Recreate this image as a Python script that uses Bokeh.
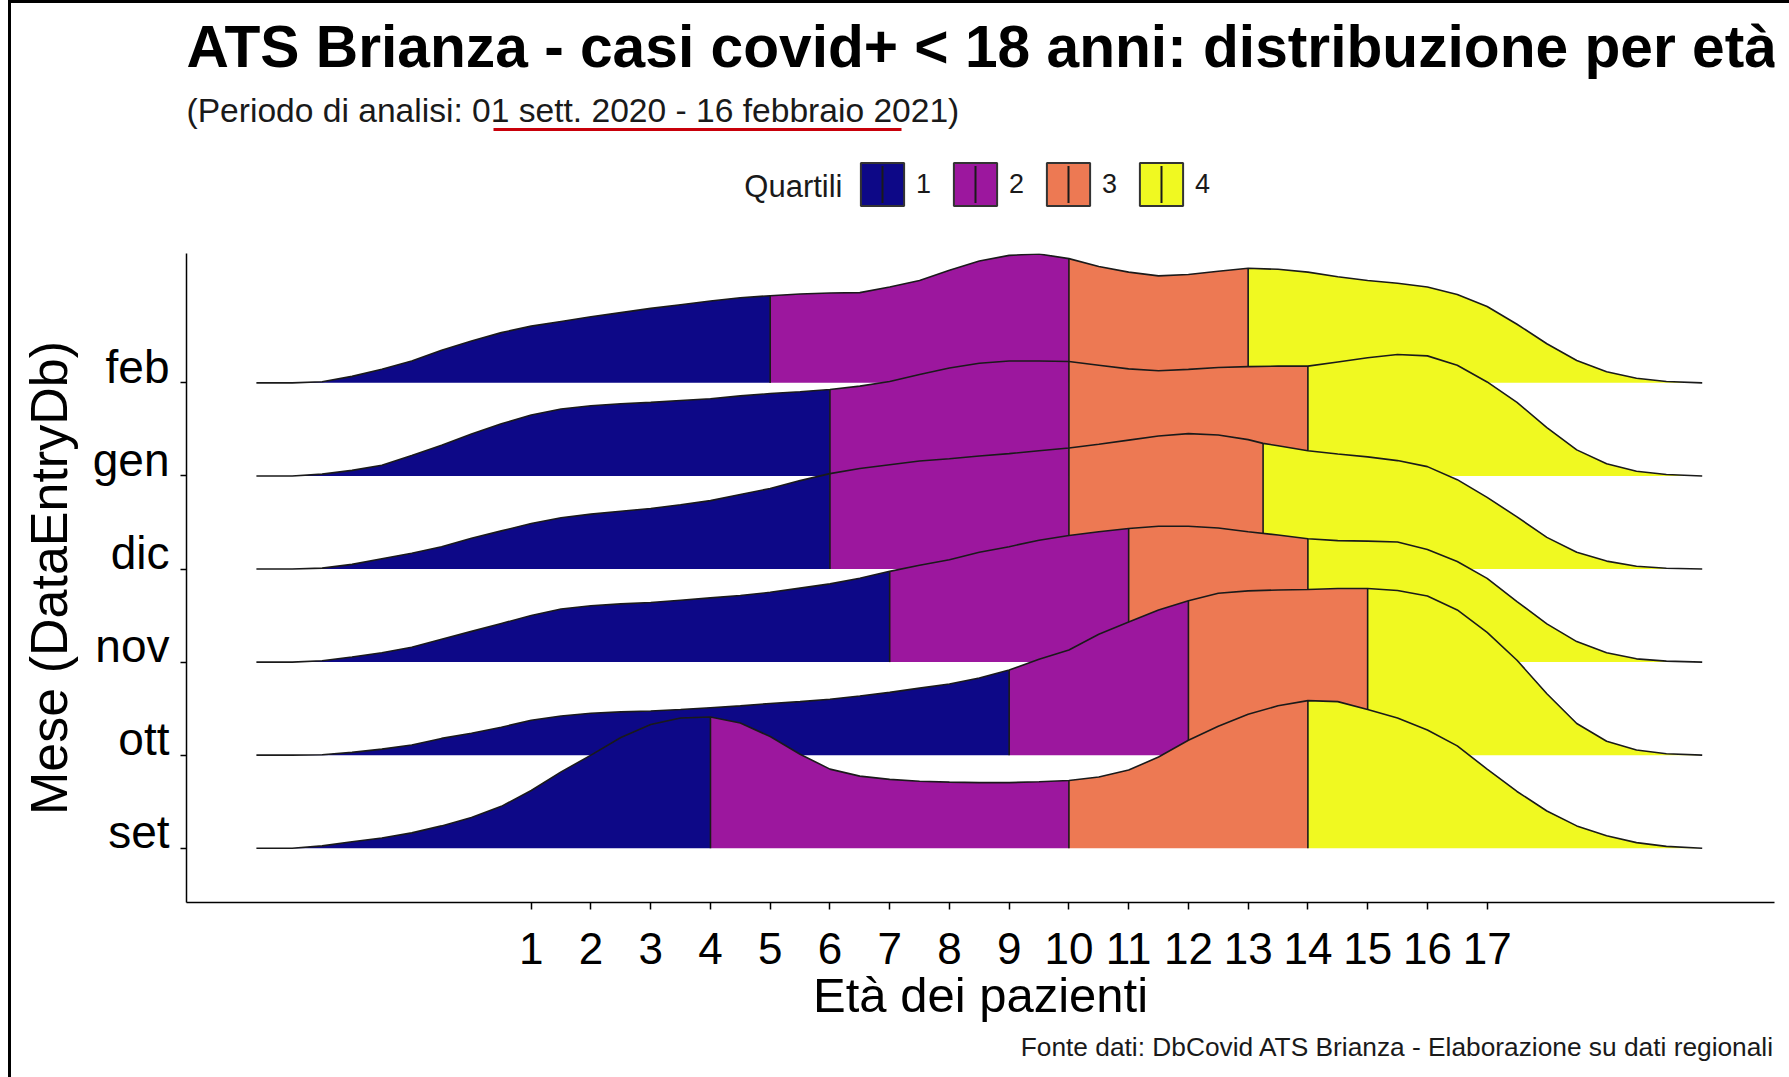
import numpy as np
from bokeh.plotting import figure
from bokeh.layouts import column
from bokeh.models import (ColumnDataSource, Range1d, FixedTicker, Legend, LegendItem,
                          Label, BoxAnnotation, Quad, Title)
from bokeh.embed import file_html
from bokeh.resources import INLINE

# ---------------- data ----------------
MONTHS = ["set", "ott", "nov", "dic", "gen", "feb"]          # bottom -> top
QUARTILE_LABELS = ["1", "2", "3", "4"]
QUARTILE_COLORS = ["#0D0887", "#9C179E", "#ED7953", "#F0F921"]
X_TICKS = list(range(1, 18))

AGES = [-3.6, -3.0, -2.5, -2.0, -1.5, -1.0, -0.5, 0.0, 0.5, 1.0, 1.5, 2.0, 2.5, 3.0,
        3.5, 4.0, 4.5, 5.0, 5.5, 6.0, 6.5, 7.0, 7.5, 8.0, 8.5, 9.0, 9.5, 10.0, 10.5,
        11.0, 11.5, 12.0, 12.5, 13.0, 13.5, 14.0, 14.5, 15.0, 15.5, 16.0, 16.5, 17.0,
        17.5, 18.0, 18.5, 19.0, 19.5, 20.0, 20.6]

DENS_FEB = [0, 0, 0.012, 0.07, 0.146, 0.235, 0.35, 0.45, 0.54, 0.61,
            0.66, 0.71, 0.755, 0.80, 0.84, 0.88, 0.915, 0.936, 0.955, 0.965,
            0.97, 1.03, 1.10, 1.21, 1.31, 1.37, 1.385, 1.335, 1.25, 1.19,
            1.15, 1.165, 1.20, 1.232, 1.22, 1.19, 1.14, 1.10, 1.07, 1.03,
            0.95, 0.82, 0.63, 0.42, 0.24, 0.12, 0.05, 0.015, 0]
DENS_GEN = [0, 0, 0.02, 0.06, 0.115, 0.22, 0.33, 0.45, 0.56, 0.655,
            0.72, 0.755, 0.775, 0.79, 0.81, 0.83, 0.86, 0.885, 0.905, 0.929,
            0.965, 1.015, 1.09, 1.16, 1.21, 1.235, 1.235, 1.23, 1.19, 1.15,
            1.13, 1.145, 1.165, 1.175, 1.18, 1.18, 1.225, 1.27, 1.305, 1.29,
            1.19, 1.01, 0.79, 0.52, 0.28, 0.13, 0.05, 0.015, 0]
DENS_DIC = [0, 0, 0.01, 0.05, 0.11, 0.17, 0.24, 0.33, 0.41, 0.49,
            0.55, 0.59, 0.62, 0.65, 0.69, 0.735, 0.80, 0.865, 0.95, 1.025,
            1.08, 1.12, 1.16, 1.185, 1.215, 1.24, 1.27, 1.30, 1.34, 1.385,
            1.43, 1.455, 1.44, 1.39, 1.325, 1.27, 1.235, 1.205, 1.165, 1.10,
            0.96, 0.77, 0.56, 0.34, 0.18, 0.085, 0.03, 0.008, 0]
DENS_NOV = [0, 0, 0.015, 0.055, 0.10, 0.16, 0.245, 0.33, 0.415, 0.50,
            0.57, 0.605, 0.625, 0.64, 0.665, 0.69, 0.715, 0.75, 0.795, 0.84,
            0.90, 0.975, 1.04, 1.10, 1.18, 1.24, 1.31, 1.36, 1.40, 1.435,
            1.46, 1.46, 1.44, 1.40, 1.365, 1.325, 1.305, 1.30, 1.29, 1.21,
            1.08, 0.90, 0.65, 0.41, 0.22, 0.10, 0.035, 0.01, 0]
DENS_OTT = [0, 0, 0.005, 0.03, 0.065, 0.11, 0.18, 0.235, 0.30, 0.375,
            0.42, 0.45, 0.465, 0.475, 0.49, 0.51, 0.53, 0.555, 0.575, 0.60,
            0.635, 0.675, 0.72, 0.765, 0.83, 0.915, 1.03, 1.13, 1.30, 1.43,
            1.56, 1.66, 1.74, 1.765, 1.775, 1.78, 1.79, 1.79, 1.77, 1.71,
            1.56, 1.32, 1.02, 0.66, 0.34, 0.15, 0.055, 0.015, 0]
DENS_SET = [0, 0, 0.025, 0.07, 0.11, 0.165, 0.24, 0.33, 0.45, 0.62,
            0.82, 1.00, 1.19, 1.33, 1.40, 1.41, 1.345, 1.20, 1.01, 0.85,
            0.775, 0.74, 0.72, 0.71, 0.705, 0.705, 0.715, 0.727, 0.765, 0.84,
            0.98, 1.16, 1.31, 1.44, 1.53, 1.586, 1.575, 1.49, 1.40, 1.27,
            1.10, 0.85, 0.61, 0.40, 0.24, 0.135, 0.06, 0.02, 0]

# quartile cut ages and the ridge height at each cut
CUTS_FEB, TOPS_FEB = [5, 10, 13], [0.936, 1.335, 1.232]
CUTS_GEN, TOPS_GEN = [6, 10, 14], [0.929, 1.23, 1.18]
CUTS_DIC, TOPS_DIC = [6, 10, 13.25], [1.025, 1.30, 1.35]
CUTS_NOV, TOPS_NOV = [7, 11, 14], [0.975, 1.435, 1.325]
CUTS_OTT, TOPS_OTT = [9, 12, 15], [0.915, 1.66, 1.79]
CUTS_SET, TOPS_SET = [4, 10, 14], [1.41, 0.727, 1.586]

DENS = {"feb": DENS_FEB, "gen": DENS_GEN, "dic": DENS_DIC,
        "nov": DENS_NOV, "ott": DENS_OTT, "set": DENS_SET}
CUTS = {"feb": CUTS_FEB, "gen": CUTS_GEN, "dic": CUTS_DIC,
        "nov": CUTS_NOV, "ott": CUTS_OTT, "set": CUTS_SET}
TOPS = {"feb": TOPS_FEB, "gen": TOPS_GEN, "dic": TOPS_DIC,
        "nov": TOPS_NOV, "ott": TOPS_OTT, "set": TOPS_SET}

TITLE = "ATS Brianza - casi covid+ < 18 anni: distribuzione per età"
SUBTITLE = "(Periodo di analisi: 01 sett. 2020 - 16 febbraio 2021)"
CAPTION = "Fonte dati: DbCovid ATS Brianza - Elaborazione su dati regionali"
LEGEND_TITLE = "Quartili"
FONT = "Liberation Sans"
INK = "#1a1a1a"

W = 1778
HEAD_H = 240
MAIN_H = 834
ML, MR, MT, MB = 175, 15, 10, 175
FRAME_W = W - ML - MR

# ---------------- header: title, subtitle, highlight, legend ----------------
# header frame is aligned with the main frame; 1 unit = 1 px, y measured downwards
head = figure(width=W, height=HEAD_H, x_range=Range1d(0, FRAME_W), y_range=Range1d(HEAD_H, 0),
              output_backend="svg", toolbar_location=None, title=None,
              x_axis_location=None, y_axis_location=None,
              min_border_left=ML, min_border_right=MR, min_border_top=0, min_border_bottom=0,
              outline_line_color=None, background_fill_color="white",
              border_fill_color="white")
head.grid.visible = False

head.add_layout(Label(x=0, y=63 - 0.3465 * 58.7, text=TITLE, text_font=FONT,
                      text_font_size="58.7px", text_font_style="bold", text_color="black",
                      text_align="left", text_baseline="middle"))
head.add_layout(Label(x=0, y=119 - 0.3465 * 33.6, text=SUBTITLE, text_font=FONT,
                      text_font_size="33.6px", text_color=INK,
                      text_align="left", text_baseline="middle"))
head.add_layout(BoxAnnotation(left=307, right=715, top=124.5, bottom=127.5,
                              fill_color="#C8000A", fill_alpha=1, line_alpha=0))

# legend geometry (bokeh draws area keys inset by 10 % of the glyph box)
KEY_W, KEY_H, LAB_STANDOFF, LAB_W, SPACING = 54, 54, 7, 20, 12
PITCH = KEY_W + LAB_STANDOFF + LAB_W + SPACING          # 93 px
KEY_X, KEY_TOP = 669, 154
INSET = 0.1 * KEY_W

# key fills and median marks painted first; the legend then draws the key frames
for i, col in enumerate(QUARTILE_COLORS):
    x0 = KEY_X + i * PITCH
    head.add_layout(BoxAnnotation(left=x0 + INSET, right=x0 + KEY_W - INSET,
                                  top=KEY_TOP + INSET, bottom=KEY_TOP + KEY_H - INSET,
                                  fill_color=col, fill_alpha=1, line_alpha=0))
    head.add_layout(BoxAnnotation(left=x0 + KEY_W / 2 - 1, right=x0 + KEY_W / 2 + 1,
                                  top=KEY_TOP + 8.5, bottom=KEY_TOP + KEY_H - 8.5,
                                  fill_color=INK, fill_alpha=1, line_alpha=0))

items = []
for lab, col in zip(QUARTILE_LABELS, QUARTILE_COLORS):
    box = head.add_glyph(ColumnDataSource(dict(l=[np.nan], r=[np.nan], t=[np.nan], b=[np.nan])),
                         Quad(left="l", right="r", top="t", bottom="b", fill_color=col,
                              fill_alpha=0, line_color="#333333", line_width=2))
    items.append(LegendItem(label=lab, renderers=[box]))

legend = Legend(items=items, orientation="horizontal",
                location=(KEY_X, HEAD_H - KEY_TOP - KEY_H), padding=0, margin=0,
                spacing=SPACING, glyph_width=KEY_W, glyph_height=KEY_H,
                label_standoff=LAB_STANDOFF, label_width=LAB_W,
                label_text_font=FONT, label_text_font_size="27px", label_text_color=INK,
                border_line_alpha=0, background_fill_alpha=0)
head.add_layout(legend)
head.add_layout(Label(x=656, y=KEY_TOP + 28.5, text=LEGEND_TITLE,
                      text_font=FONT, text_font_size="31px", text_color=INK,
                      text_align="right", text_baseline="middle"))

# ---------------- main ridgeline plot ----------------
p = figure(width=W, height=MAIN_H, x_range=Range1d(-4.77, 21.81), y_range=Range1d(0.417, 7.39),
           output_backend="svg", toolbar_location=None, title=None,
           min_border_left=ML, min_border_right=MR, min_border_top=MT, min_border_bottom=MB,
           background_fill_color="white", border_fill_color="white", outline_line_color=None)
p.xgrid.visible = False
p.ygrid.visible = False

# ridges, top one first so lower ridges overlap it
for m in ["feb", "gen", "dic", "nov", "ott", "set"]:
    base = MONTHS.index(m) + 1
    pts = dict(zip(AGES, DENS[m]))
    for c, t in zip(CUTS[m], TOPS[m]):
        pts[c] = t
    px = sorted(pts)
    py = [pts[x] for x in px]
    bounds = [AGES[0]] + CUTS[m] + [AGES[-1]]
    xs_l, ys_l = [], []
    for q in range(4):
        lo, hi = bounds[q], bounds[q + 1]
        seg = [(x, y) for x, y in zip(px, py) if lo <= x <= hi]
        xs_l.append([x for x, _ in seg] + [hi, lo])
        ys_l.append([base + y for _, y in seg] + [base, base])
    p.patches(xs="xs", ys="ys", fill_color="color", line_color=None,
              source=ColumnDataSource(dict(xs=xs_l, ys=ys_l, color=QUARTILE_COLORS)))
    p.line(px, [base + y for y in py], line_color=INK, line_width=1.6)
    p.segment(x0=CUTS[m], y0=[base] * 3, x1=CUTS[m], y1=[base + t for t in TOPS[m]],
              line_color=INK, line_width=1.6)

Y_SHIFT = 0.17
p.xaxis.ticker = FixedTicker(ticks=X_TICKS)
p.xaxis.axis_label = "Età dei pazienti"
p.xaxis.major_label_text_font_size = "44px"
p.xaxis.major_label_standoff = 23
p.xaxis.major_tick_out = 7
p.xaxis.major_tick_in = 0
p.xaxis.axis_label_text_font_size = "49px"
p.xaxis.axis_label_standoff = 1

p.yaxis.ticker = FixedTicker(ticks=[i + 1 + Y_SHIFT for i in range(6)],
                             minor_ticks=[i + 1 for i in range(6)])
p.yaxis.major_label_overrides = {i + 1 + Y_SHIFT: MONTHS[i] for i in range(6)}
p.yaxis.axis_label = "Mese (DataEntryDb)"
p.yaxis.major_label_text_font_size = "46px"
p.yaxis.major_label_standoff = 11
p.yaxis.major_tick_out = 0
p.yaxis.major_tick_in = 0
p.yaxis.minor_tick_out = 6
p.yaxis.minor_tick_in = 0
p.yaxis.minor_tick_line_color = "black"
p.yaxis.minor_tick_line_width = 1.5
p.yaxis.axis_label_text_font_size = "52px"
p.yaxis.axis_label_standoff = 12

for ax in (p.xaxis[0], p.yaxis[0]):
    ax.axis_line_color = "black"
    ax.axis_line_width = 1.5
    ax.major_tick_line_color = "black"
    ax.major_tick_line_width = 1.5
    ax.major_label_text_color = "black"
    ax.major_label_text_font = FONT
    ax.axis_label_text_font = FONT
    ax.axis_label_text_font_style = "normal"
    ax.axis_label_text_color = "black"

p.add_layout(Title(text=CAPTION, align="right", vertical_align="top", standoff=14,
                   text_font=FONT, text_font_size="26.3px", text_font_style="normal",
                   text_color=INK), "below")

page = column(head, p, spacing=0,
              styles={"margin-left": "8px", "border-left": "3px solid black",
                      "border-top": "3px solid black"})

open("out.html", "w").write(file_html(page, INLINE))
